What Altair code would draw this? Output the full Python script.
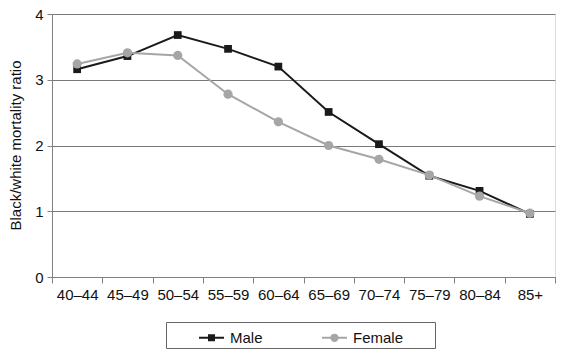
import altair as alt
import pandas as pd

ages = ["40–44", "45–49", "50–54", "55–59", "60–64", "65–69", "70–74", "75–79", "80–84", "85+"]
male = [3.16, 3.36, 3.68, 3.47, 3.20, 2.51, 2.02, 1.54, 1.31, 0.96]
female = [3.24, 3.41, 3.37, 2.78, 2.36, 2.00, 1.79, 1.55, 1.23, 0.97]
series = ["Male", "Female"]
colors = ["#1a1a1a", "#a6a6a6"]
shapes = ["square", "circle"]
y_ticks = [0, 1, 2, 3, 4]

rows = []
for s, vals in zip(series, [male, female]):
    for a, v in zip(ages, vals):
        rows.append({"age": a, "sex": s, "ratio": v})
df = pd.DataFrame(rows)

FONT = "Liberation Sans"
NB = "\u00a0"
ZW = "\u200b"
SPACER = ZW + NB * 7 + ZW

# legend glyphs: a short line with the series marker in the middle
legend_paths = [
    "M-1,0H1M-0.2,-0.2H0.2V0.2H-0.2Z",
    "M-1,0H1M0.25,0A0.25,0.25,0,1,1,-0.25,0A0.25,0.25,0,1,1,0.25,0Z",
]

legend = alt.Legend(
    orient="none", legendX=114, legendY=308, direction="horizontal",
    title=SPACER, titleOrient="left", titlePadding=0, titleFontSize=15,
    titleFontWeight="normal",
    strokeColor="#666666", padding=2,
    symbolSize=625, symbolStrokeWidth=2, symbolOpacity=1,
    labelFontSize=15, labelFont=FONT, labelColor="#111111", labelOffset=5,
    columnPadding=55,
    labelExpr=f"datum.label == 'Female' ? datum.label + '{SPACER}' : datum.label",
)

x_enc = alt.X(
    "age:N", sort=ages,
    scale=alt.Scale(paddingInner=0, paddingOuter=0),
    axis=alt.Axis(title=None, tickBand="extent", labelAngle=0, labelOverlap=False,
                  labelFontSize=15, labelFont=FONT, labelColor="#111111",
                  domainColor="#808080", tickColor="#808080", tickSize=6, labelPadding=4,
                  grid=False),
)
y_enc = alt.Y(
    "ratio:Q",
    scale=alt.Scale(domain=[0, 4], nice=False, zero=True),
    axis=alt.Axis(values=y_ticks, title="Black/white mortality ratio", titleFontSize=15,
                  titleFont=FONT, titleFontWeight="normal", titleColor="#111111",
                  titleX=-37, titleY=131, titleBaseline="middle",
                  labelFontSize=15, labelFont=FONT, labelColor="#111111", labelPadding=4,
                  domainColor="#808080", tickColor="#808080", tickSize=5,
                  grid=True, gridColor="#7a7a7a", gridWidth=1),
)

layers = []
for s, c, shp in zip(series, colors, shapes):
    base = alt.Chart(df).transform_filter(alt.datum.sex == s)
    line = base.mark_line(strokeWidth=2, color=c).encode(x=x_enc, y=y_enc)
    pts = base.mark_point(filled=True, opacity=1, color=c, shape=shp,
                          size=60 if shp == "square" else 85).encode(x=x_enc, y=y_enc)
    layers += [line, pts]

legend_layer = alt.Chart(df).mark_point(opacity=0, strokeWidth=2).encode(
    x=x_enc, y=y_enc,
    fill=alt.Fill("sex:N", scale=alt.Scale(domain=series, range=colors), legend=legend),
    stroke=alt.Stroke("sex:N", scale=alt.Scale(domain=series, range=colors), legend=legend),
    shape=alt.Shape("sex:N", scale=alt.Scale(domain=series, range=legend_paths), legend=legend),
)
layers.append(legend_layer)

chart = alt.layer(*layers).properties(
    width=503, height=263,
    autosize=alt.AutoSizeParams(type="none"),
    padding={"left": 44, "top": 6, "right": 3, "bottom": 72},
).configure_view(stroke="#808080", strokeWidth=1).configure(font=FONT)

chart.save("out.html", embed_options={"renderer": "svg", "actions": False})
